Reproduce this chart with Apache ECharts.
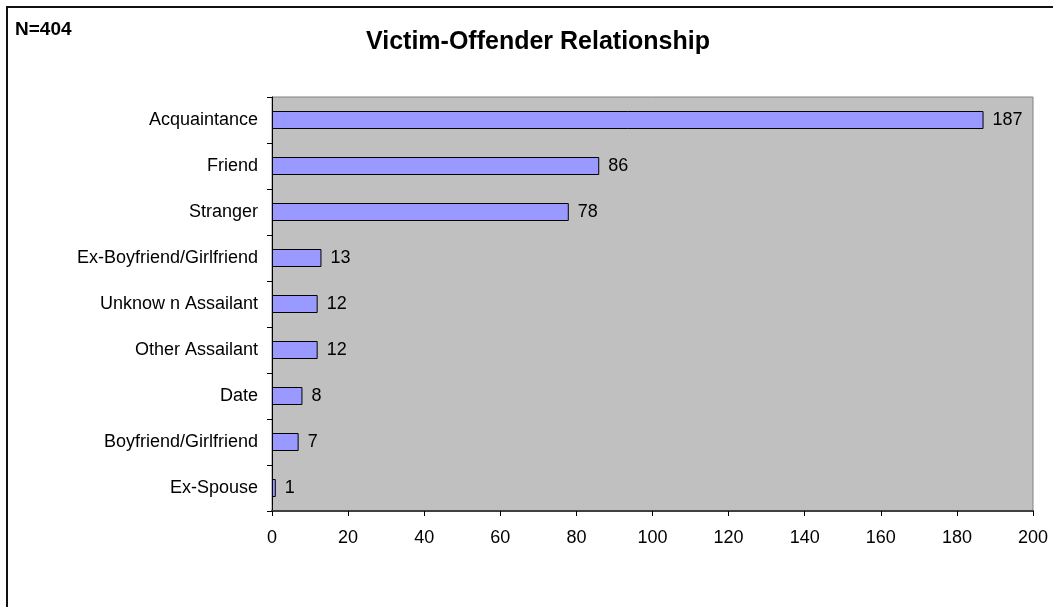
<!DOCTYPE html>
<html>
<head>
<meta charset="utf-8">
<script src="https://cdn.jsdelivr.net/npm/echarts@6/dist/echarts.min.js"></script>
<style>html,body{margin:0;padding:0;background:#fff;}#c{width:1053px;height:607px;}</style>
</head>
<body>
<div id="c"></div>
<script>
const categories = ["Acquaintance","Friend","Stranger","Ex-Boyfriend/Girlfriend","Unknow n Assailant","Other Assailant","Date","Boyfriend/Girlfriend","Ex-Spouse"];
const values = [187,86,78,13,12,12,8,7,1];
const xTicks = [0,20,40,60,80,100,120,140,160,180,200];

const FONT = 'Liberation Sans, Arial, sans-serif';
const chart = echarts.init(document.getElementById('c'), null, {renderer:'canvas'});
chart.setOption({
  animation:false,
  backgroundColor:'#fff',
  graphic:[
    {type:'rect', shape:{x:7, y:7, width:3000, height:3000}, style:{fill:null, stroke:'#111', lineWidth:2}, silent:true},
    {type:'text', x:538, y:42, style:{text:'Victim-Offender Relationship', font:'bold 25px ' + FONT, fill:'#000', textAlign:'center', textVerticalAlign:'middle'}},
    {type:'text', x:15, y:30, style:{text:'N=404', font:'bold 19px ' + FONT, fill:'#000', textAlign:'left', textVerticalAlign:'middle'}}
  ],
  grid:{left:272, right:20, top:97, height:414, show:true, backgroundColor:'#C0C0C0', borderColor:'#808080', borderWidth:1, containLabel:false},
  xAxis:{type:'value', min:xTicks[0], max:xTicks[xTicks.length-1], interval:xTicks[1]-xTicks[0],
    axisLine:{show:true, lineStyle:{color:'#404040', width:2}},
    axisTick:{show:true, length:5, lineStyle:{color:'#000'}},
    splitLine:{show:false},
    axisLabel:{fontFamily:FONT, fontSize:18, color:'#000', margin:18}},
  yAxis:{type:'category', data:categories, inverse:true,
    axisLine:{show:true, lineStyle:{color:'#000', width:1}},
    axisTick:{show:true, length:5, alignWithLabel:false, lineStyle:{color:'#000'}},
    axisLabel:{fontFamily:FONT, fontSize:18, color:'#000', margin:14}},
  series:[{type:'bar', data:values, barWidth:18,
    itemStyle:{color:'#9999FF', borderColor:'#000', borderWidth:1},
    label:{show:true, position:'right', distance:9, fontFamily:FONT, fontSize:18, color:'#000'}}]
});
</script>
</body>
</html>
